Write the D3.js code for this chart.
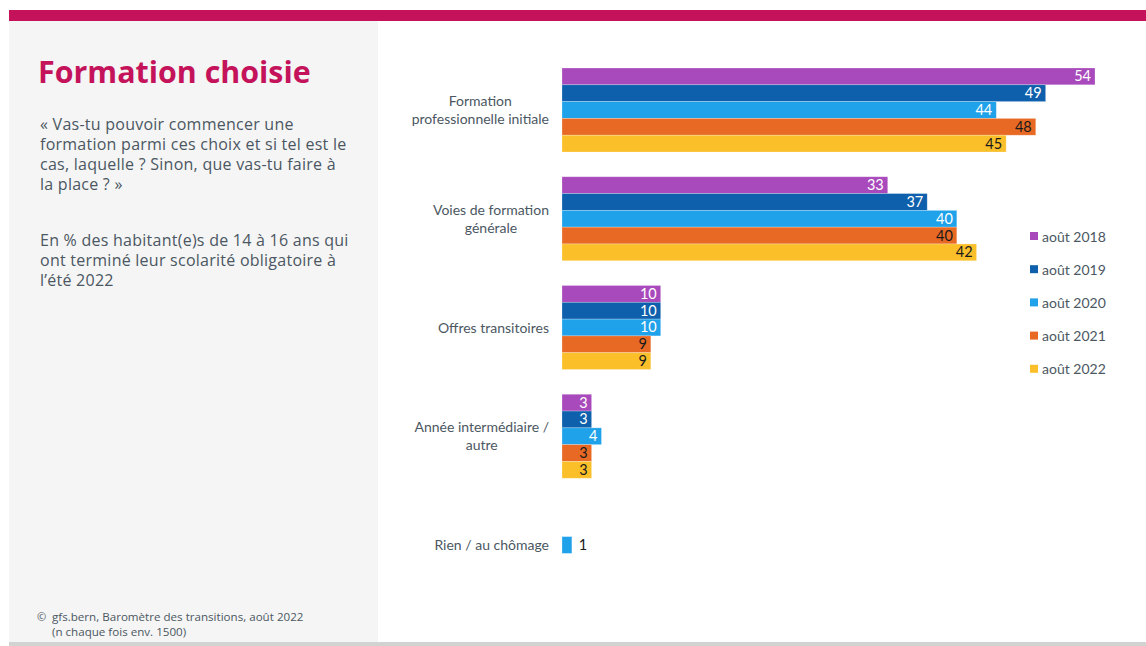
<!DOCTYPE html>
<html>
<head>
<meta charset="utf-8">
<script src="https://cdn.jsdelivr.net/npm/d3@7"></script>
<style>
  html, body { margin: 0; padding: 0; background: #ffffff; }
  svg { display: block; }
</style>
</head>
<body>
<svg id="chart" width="1146" height="646"></svg>
<script>
// Answer categories (each entry holds the lines of its axis label)
const categories = [
  "Formation professionnelle initiale",
  "Voies de formation générale",
  "Offres transitoires",
  "Année intermédiaire / autre",
  "Rien / au chômage"
];
const categoryLines = [
  ["Formation", "professionnelle initiale"],
  ["Voies de formation", "générale"],
  ["Offres transitoires"],
  ["Année intermédiaire /", "autre"],
  ["Rien / au chômage"]
];

// Survey waves
const waves = ["août 2018", "août 2019", "août 2020", "août 2021", "août 2022"];

// Share in % per wave (null = not asked in that wave)
const aout2018 = [54, 33, 10, 3, null];
const aout2019 = [49, 37, 10, 3, null];
const aout2020 = [44, 40, 10, 4, 1];
const aout2021 = [48, 40, 9, 3, null];
const aout2022 = [45, 42, 9, 3, null];

const waveValues = [aout2018, aout2019, aout2020, aout2021, aout2022];
const waveColors = ["#a84abc", "#0e5fac", "#1fa2ea", "#e86924", "#fbbf2a"];
const waveLabelColors = ["#ffffff", "#ffffff", "#ffffff", "#1a1a1a", "#1a1a1a"];

const title = "Formation choisie";
const question = [
  "« Vas-tu pouvoir commencer une",
  "formation parmi ces choix et si tel est le",
  "cas, laquelle ? Sinon, que vas-tu faire à",
  "la place ? »"
];
const basis = [
  "En % des habitant(e)s de 14 à 16 ans qui",
  "ont terminé leur scolarité obligatoire à",
  "l’été 2022"
];
const source = [
  "gfs.bern, Baromètre des transitions, août 2022",
  "(n chaque fois env. 1500)"
];

const svg = d3.select("#chart");
const W = 1146, H = 646;
const textGrey = "#4b5762";
const sideFont = "'Open Sans', 'Noto Sans', sans-serif";
const chartFont = "Lato, 'Noto Sans', sans-serif";

// Page frame
svg.append("rect").attr("x", 0).attr("y", 0).attr("width", W).attr("height", H).attr("fill", "#ffffff");
svg.append("rect").attr("x", 9).attr("y", 10).attr("width", W - 9).attr("height", 11).attr("fill", "#c4135b");
svg.append("rect").attr("x", 9).attr("y", 21).attr("width", 369).attr("height", 621).attr("fill", "#f5f5f5");
svg.append("rect").attr("x", 9).attr("y", 642).attr("width", W - 9).attr("height", 4).attr("fill", "#d2d2d2");

// Side panel texts
svg.append("text")
  .attr("x", 38).attr("y", 83)
  .attr("font-family", "'Open Sans', 'Noto Sans', sans-serif")
  .attr("font-weight", 700)
  .attr("font-size", 30.4)
  .attr("fill", "#c4135b")
  .text(title);

svg.append("g").selectAll("text").data(question).join("text")
  .attr("x", 40).attr("y", (d, i) => 130 + i * 20)
  .attr("font-family", sideFont).attr("font-size", 16).attr("letter-spacing", 0.25)
  .attr("fill", textGrey).text(d => d);

svg.append("g").selectAll("text").data(basis).join("text")
  .attr("x", 40).attr("y", (d, i) => 246 + i * 20)
  .attr("font-family", sideFont).attr("font-size", 16).attr("letter-spacing", 0.25)
  .attr("fill", textGrey).text(d => d);

svg.append("text").attr("x", 37).attr("y", 621)
  .attr("font-family", sideFont).attr("font-size", 11).attr("fill", textGrey).text("©");
svg.append("g").selectAll("text").data(source).join("text")
  .attr("x", 52).attr("y", (d, i) => 621 + i * 14.5)
  .attr("font-family", sideFont).attr("font-size", 11.6)
  .attr("fill", textGrey).text(d => d);

// Scales
const x = d3.scaleLinear().domain([0, 54]).range([562, 1095]);
const y = d3.scaleBand().domain(categories).range([68, 587]).paddingInner(0.2276).paddingOuter(0);
const yInner = d3.scaleBand().domain(waves).range([0, y.bandwidth()]).padding(0);

// Bars
const groups = svg.append("g").selectAll("g").data(categories).join("g")
  .attr("transform", d => `translate(0,${y(d)})`);

groups.each(function (cat, ci) {
  const g = d3.select(this);
  const rows = waves.map((w, wi) => ({ wave: w, wi, value: waveValues[wi][ci] }))
    .filter(r => r.value !== null);

  g.selectAll("rect").data(rows).join("rect")
    .attr("x", x(0))
    .attr("y", r => yInner(r.wave))
    .attr("width", r => x(r.value) - x(0))
    .attr("height", yInner.bandwidth())
    .attr("fill", r => waveColors[r.wi])
    .attr("stroke", "#ffffff").attr("stroke-opacity", 0.35).attr("stroke-width", 0.7);

  g.selectAll("text.val").data(rows).join("text")
    .attr("class", "val")
    .attr("font-family", chartFont).attr("font-size", 14.5)
    .attr("y", r => yInner(r.wave) + yInner.bandwidth() / 2 + 5)
    .each(function (r) {
      const t = d3.select(this).text(r.value);
      const barW = x(r.value) - x(0);
      const inside = barW > 14;
      t.attr("x", inside ? x(r.value) - 4 : x(r.value) + 7)
        .attr("text-anchor", inside ? "end" : "start")
        .attr("fill", inside ? waveLabelColors[r.wi] : "#1a1a1a");
    });
});

// Category labels: lines centred on each other, block right-aligned to the axis
categories.forEach((cat, ci) => {
  const lines = categoryLines[ci];
  const g = svg.append("g");
  const texts = g.selectAll("text").data(lines).join("text")
    .attr("font-family", chartFont).attr("font-size", 14)
    .attr("fill", textGrey).attr("text-anchor", "middle")
    .text(d => d);
  let maxW = 0;
  texts.each(function () { maxW = Math.max(maxW, this.getComputedTextLength()); });
  const cx = 549 - maxW / 2;
  const cy = y(cat) + y.bandwidth() / 2;
  const lh = 18;
  texts.attr("x", cx)
    .attr("y", (d, i) => cy + 5 + (i - (lines.length - 1) / 2) * lh);
});

// Legend
const legend = svg.append("g").selectAll("g").data(waves).join("g")
  .attr("transform", (d, i) => `translate(1030,${232 + i * 33.2})`);
legend.append("rect").attr("width", 8).attr("height", 8).attr("fill", (d, i) => waveColors[i]);
legend.append("text").attr("x", 12).attr("y", 9.5)
  .attr("font-family", chartFont).attr("font-size", 14)
  .attr("fill", textGrey).text(d => d);
</script>
</body>
</html>
